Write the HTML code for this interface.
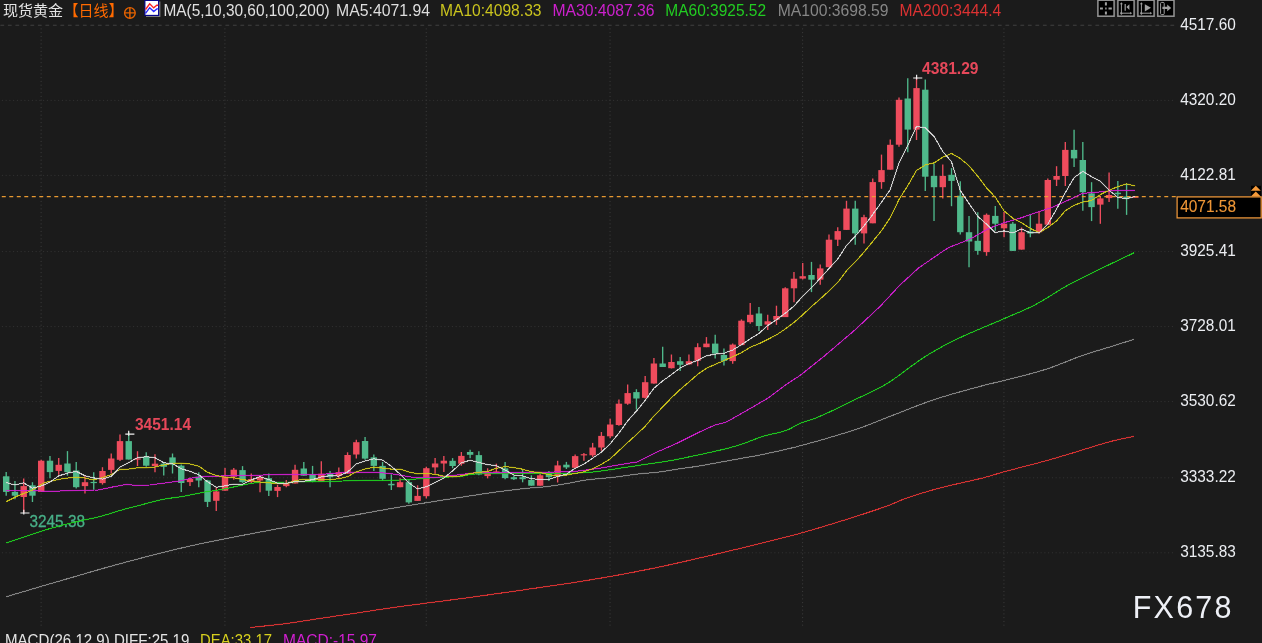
<!DOCTYPE html>
<html lang="zh-CN">
<head>
<meta charset="utf-8">
<title>现货黄金 日线</title>
<style>
html,body{margin:0;padding:0;background:#1b1b1b;}
body{width:1262px;height:643px;overflow:hidden;position:relative;font-family:"Liberation Sans", "Noto Sans CJK SC", sans-serif;}
svg{position:absolute;left:0;top:0;display:block;}
text{font-family:"Liberation Sans", "Noto Sans CJK SC", sans-serif;}
</style>
</head>
<body>
<svg width="1262" height="643" viewBox="0 0 1262 643">
<rect x="0" y="0" width="1262" height="643" fill="#1b1b1b"/>
<g id="grid" fill="none">
<line x1="0.4" y1="25.25" x2="1175" y2="25.25" stroke="#404040" stroke-width="1" stroke-dasharray="3.75 3.75"/>
<line x1="1.9" y1="100.40" x2="1173.5" y2="100.40" stroke="#343434" stroke-width="1" stroke-dasharray="1 2.75"/>
<line x1="1.9" y1="175.40" x2="1173.5" y2="175.40" stroke="#343434" stroke-width="1" stroke-dasharray="1 2.75"/>
<line x1="1.9" y1="251.60" x2="1173.5" y2="251.60" stroke="#343434" stroke-width="1" stroke-dasharray="1 2.75"/>
<line x1="1.9" y1="326.60" x2="1173.5" y2="326.60" stroke="#343434" stroke-width="1" stroke-dasharray="1 2.75"/>
<line x1="1.9" y1="401.60" x2="1173.5" y2="401.60" stroke="#343434" stroke-width="1" stroke-dasharray="1 2.75"/>
<line x1="1.9" y1="477.80" x2="1173.5" y2="477.80" stroke="#343434" stroke-width="1" stroke-dasharray="1 2.75"/>
<line x1="1.9" y1="552.80" x2="1173.5" y2="552.80" stroke="#343434" stroke-width="1" stroke-dasharray="1 2.75"/>
<line x1="41.11" y1="28.4" x2="41.11" y2="626" stroke="#3e3e3e" stroke-width="1" stroke-dasharray="1 2.75"/>
<line x1="224.92" y1="28.4" x2="224.92" y2="626" stroke="#3e3e3e" stroke-width="1" stroke-dasharray="1 2.75"/>
<line x1="426.24" y1="28.4" x2="426.24" y2="626" stroke="#3e3e3e" stroke-width="1" stroke-dasharray="1 2.75"/>
<line x1="610.06" y1="28.4" x2="610.06" y2="626" stroke="#3e3e3e" stroke-width="1" stroke-dasharray="1 2.75"/>
<line x1="802.62" y1="28.4" x2="802.62" y2="626" stroke="#3e3e3e" stroke-width="1" stroke-dasharray="1 2.75"/>
<line x1="1003.94" y1="28.4" x2="1003.94" y2="626" stroke="#3e3e3e" stroke-width="1" stroke-dasharray="1 2.75"/>
</g>
<g id="candles">
<line x1="6.20" y1="472.1" x2="6.20" y2="495.7" stroke="#4fb98b" stroke-width="1.35"/><rect x="3.00" y="476.3" width="6.4" height="15.6" fill="#4fb98b"/>
<line x1="14.95" y1="481.1" x2="14.95" y2="499.3" stroke="#4fb98b" stroke-width="1.35"/><rect x="11.75" y="491.9" width="6.4" height="3.8" fill="#4fb98b"/>
<line x1="23.71" y1="478.6" x2="23.71" y2="512.8" stroke="#ee4c5d" stroke-width="1.35"/><rect x="20.51" y="486.1" width="6.4" height="10.9" fill="#ee4c5d"/>
<line x1="32.46" y1="482.2" x2="32.46" y2="502.0" stroke="#4fb98b" stroke-width="1.35"/><rect x="29.26" y="485.3" width="6.4" height="10.4" fill="#4fb98b"/>
<line x1="41.21" y1="459.7" x2="41.21" y2="491.9" stroke="#ee4c5d" stroke-width="1.35"/><rect x="38.01" y="460.7" width="6.4" height="31.2" fill="#ee4c5d"/>
<line x1="49.97" y1="456.1" x2="49.97" y2="478.3" stroke="#4fb98b" stroke-width="1.35"/><rect x="46.77" y="460.7" width="6.4" height="11.4" fill="#4fb98b"/>
<line x1="58.72" y1="458.1" x2="58.72" y2="474.7" stroke="#ee4c5d" stroke-width="1.35"/><rect x="55.52" y="464.8" width="6.4" height="6.1" fill="#ee4c5d"/>
<line x1="67.47" y1="451.1" x2="67.47" y2="475.7" stroke="#4fb98b" stroke-width="1.35"/><rect x="64.27" y="463.5" width="6.4" height="8.6" fill="#4fb98b"/>
<line x1="76.22" y1="462.0" x2="76.22" y2="488.4" stroke="#4fb98b" stroke-width="1.35"/><rect x="73.02" y="470.5" width="6.4" height="16.7" fill="#4fb98b"/>
<line x1="84.98" y1="475.2" x2="84.98" y2="493.4" stroke="#ee4c5d" stroke-width="1.35"/><rect x="81.78" y="482.2" width="6.4" height="3.9" fill="#ee4c5d"/>
<line x1="93.73" y1="472.3" x2="93.73" y2="489.8" stroke="#4fb98b" stroke-width="1.35"/><rect x="90.53" y="481.9" width="6.4" height="1.2" fill="#4fb98b"/>
<line x1="102.48" y1="467.2" x2="102.48" y2="484.6" stroke="#ee4c5d" stroke-width="1.35"/><rect x="99.28" y="471.0" width="6.4" height="12.1" fill="#ee4c5d"/>
<line x1="111.24" y1="453.5" x2="111.24" y2="473.5" stroke="#ee4c5d" stroke-width="1.35"/><rect x="108.04" y="458.5" width="6.4" height="11.4" fill="#ee4c5d"/>
<line x1="119.99" y1="434.6" x2="119.99" y2="460.9" stroke="#ee4c5d" stroke-width="1.35"/><rect x="116.79" y="441.1" width="6.4" height="18.7" fill="#ee4c5d"/>
<line x1="128.74" y1="432.6" x2="128.74" y2="459.5" stroke="#4fb98b" stroke-width="1.35"/><rect x="125.54" y="441.1" width="6.4" height="18.4" fill="#4fb98b"/>
<line x1="137.50" y1="451.2" x2="137.50" y2="466.0" stroke="#ee4c5d" stroke-width="1.35"/><rect x="134.30" y="458.4" width="6.4" height="1.2" fill="#ee4c5d"/>
<line x1="146.25" y1="452.3" x2="146.25" y2="466.8" stroke="#4fb98b" stroke-width="1.35"/><rect x="143.05" y="456.7" width="6.4" height="9.0" fill="#4fb98b"/>
<line x1="155.00" y1="454.3" x2="155.00" y2="472.2" stroke="#ee4c5d" stroke-width="1.35"/><rect x="151.80" y="463.7" width="6.4" height="2.3" fill="#ee4c5d"/>
<line x1="163.75" y1="462.1" x2="163.75" y2="475.6" stroke="#4fb98b" stroke-width="1.35"/><rect x="160.55" y="463.7" width="6.4" height="3.1" fill="#4fb98b"/>
<line x1="172.51" y1="453.5" x2="172.51" y2="473.5" stroke="#4fb98b" stroke-width="1.35"/><rect x="169.31" y="457.4" width="6.4" height="7.0" fill="#4fb98b"/>
<line x1="181.26" y1="464.4" x2="181.26" y2="492.1" stroke="#4fb98b" stroke-width="1.35"/><rect x="178.06" y="465.6" width="6.4" height="17.4" fill="#4fb98b"/>
<line x1="190.01" y1="477.4" x2="190.01" y2="486.0" stroke="#ee4c5d" stroke-width="1.35"/><rect x="186.81" y="479.0" width="6.4" height="3.1" fill="#ee4c5d"/>
<line x1="198.77" y1="472.3" x2="198.77" y2="487.2" stroke="#4fb98b" stroke-width="1.35"/><rect x="195.57" y="476.7" width="6.4" height="3.8" fill="#4fb98b"/>
<line x1="207.52" y1="479.8" x2="207.52" y2="507.0" stroke="#4fb98b" stroke-width="1.35"/><rect x="204.32" y="480.5" width="6.4" height="21.4" fill="#4fb98b"/>
<line x1="216.27" y1="487.2" x2="216.27" y2="510.9" stroke="#ee4c5d" stroke-width="1.35"/><rect x="213.07" y="491.4" width="6.4" height="9.4" fill="#ee4c5d"/>
<line x1="225.02" y1="468.1" x2="225.02" y2="490.7" stroke="#ee4c5d" stroke-width="1.35"/><rect x="221.82" y="476.7" width="6.4" height="14.0" fill="#ee4c5d"/>
<line x1="233.78" y1="468.1" x2="233.78" y2="479.8" stroke="#ee4c5d" stroke-width="1.35"/><rect x="230.58" y="469.7" width="6.4" height="7.0" fill="#ee4c5d"/>
<line x1="242.53" y1="466.1" x2="242.53" y2="482.9" stroke="#4fb98b" stroke-width="1.35"/><rect x="239.33" y="470.1" width="6.4" height="12.0" fill="#4fb98b"/>
<line x1="251.28" y1="473.5" x2="251.28" y2="482.9" stroke="#ee4c5d" stroke-width="1.35"/><rect x="248.08" y="479.0" width="6.4" height="3.1" fill="#ee4c5d"/>
<line x1="260.04" y1="475.1" x2="260.04" y2="492.2" stroke="#ee4c5d" stroke-width="1.35"/><rect x="256.84" y="476.7" width="6.4" height="3.8" fill="#ee4c5d"/>
<line x1="268.79" y1="473.5" x2="268.79" y2="496.1" stroke="#4fb98b" stroke-width="1.35"/><rect x="265.59" y="478.2" width="6.4" height="12.5" fill="#4fb98b"/>
<line x1="277.54" y1="484.8" x2="277.54" y2="497.1" stroke="#ee4c5d" stroke-width="1.35"/><rect x="274.34" y="487.0" width="6.4" height="3.9" fill="#ee4c5d"/>
<line x1="286.30" y1="479.9" x2="286.30" y2="487.2" stroke="#ee4c5d" stroke-width="1.35"/><rect x="283.10" y="483.5" width="6.4" height="2.6" fill="#ee4c5d"/>
<line x1="295.05" y1="464.8" x2="295.05" y2="483.5" stroke="#ee4c5d" stroke-width="1.35"/><rect x="291.85" y="469.8" width="6.4" height="13.7" fill="#ee4c5d"/>
<line x1="303.80" y1="462.0" x2="303.80" y2="475.7" stroke="#4fb98b" stroke-width="1.35"/><rect x="300.60" y="468.5" width="6.4" height="7.2" fill="#4fb98b"/>
<line x1="312.56" y1="465.9" x2="312.56" y2="482.2" stroke="#4fb98b" stroke-width="1.35"/><rect x="309.36" y="474.4" width="6.4" height="7.5" fill="#4fb98b"/>
<line x1="321.31" y1="461.2" x2="321.31" y2="481.9" stroke="#ee4c5d" stroke-width="1.35"/><rect x="318.11" y="473.7" width="6.4" height="8.2" fill="#ee4c5d"/>
<line x1="330.06" y1="471.0" x2="330.06" y2="487.2" stroke="#4fb98b" stroke-width="1.35"/><rect x="326.86" y="473.7" width="6.4" height="3.5" fill="#4fb98b"/>
<line x1="338.81" y1="467.4" x2="338.81" y2="478.3" stroke="#ee4c5d" stroke-width="1.35"/><rect x="335.61" y="472.1" width="6.4" height="3.9" fill="#ee4c5d"/>
<line x1="347.57" y1="452.3" x2="347.57" y2="473.7" stroke="#ee4c5d" stroke-width="1.35"/><rect x="344.37" y="455.0" width="6.4" height="18.7" fill="#ee4c5d"/>
<line x1="356.32" y1="439.8" x2="356.32" y2="458.6" stroke="#ee4c5d" stroke-width="1.35"/><rect x="353.12" y="442.2" width="6.4" height="12.3" fill="#ee4c5d"/>
<line x1="365.07" y1="437.1" x2="365.07" y2="459.7" stroke="#4fb98b" stroke-width="1.35"/><rect x="361.87" y="441.0" width="6.4" height="17.6" fill="#4fb98b"/>
<line x1="373.83" y1="454.5" x2="373.83" y2="470.9" stroke="#4fb98b" stroke-width="1.35"/><rect x="370.63" y="457.3" width="6.4" height="8.6" fill="#4fb98b"/>
<line x1="382.58" y1="462.0" x2="382.58" y2="480.7" stroke="#4fb98b" stroke-width="1.35"/><rect x="379.38" y="465.9" width="6.4" height="12.9" fill="#4fb98b"/>
<line x1="391.33" y1="474.4" x2="391.33" y2="490.0" stroke="#4fb98b" stroke-width="1.35"/><rect x="388.13" y="483.8" width="6.4" height="1.5" fill="#4fb98b"/>
<line x1="400.08" y1="478.3" x2="400.08" y2="487.2" stroke="#ee4c5d" stroke-width="1.35"/><rect x="396.88" y="482.2" width="6.4" height="5.0" fill="#ee4c5d"/>
<line x1="408.84" y1="479.1" x2="408.84" y2="503.7" stroke="#4fb98b" stroke-width="1.35"/><rect x="405.64" y="482.2" width="6.4" height="20.2" fill="#4fb98b"/>
<line x1="417.59" y1="485.3" x2="417.59" y2="500.9" stroke="#ee4c5d" stroke-width="1.35"/><rect x="414.39" y="495.9" width="6.4" height="5.0" fill="#ee4c5d"/>
<line x1="426.34" y1="466.7" x2="426.34" y2="498.5" stroke="#ee4c5d" stroke-width="1.35"/><rect x="423.14" y="468.2" width="6.4" height="28.0" fill="#ee4c5d"/>
<line x1="435.10" y1="458.1" x2="435.10" y2="473.7" stroke="#ee4c5d" stroke-width="1.35"/><rect x="431.90" y="463.5" width="6.4" height="3.9" fill="#ee4c5d"/>
<line x1="443.85" y1="456.1" x2="443.85" y2="472.1" stroke="#ee4c5d" stroke-width="1.35"/><rect x="440.65" y="460.7" width="6.4" height="2.8" fill="#ee4c5d"/>
<line x1="452.60" y1="458.1" x2="452.60" y2="468.3" stroke="#4fb98b" stroke-width="1.35"/><rect x="449.40" y="460.8" width="6.4" height="5.2" fill="#4fb98b"/>
<line x1="461.36" y1="452.0" x2="461.36" y2="465.7" stroke="#ee4c5d" stroke-width="1.35"/><rect x="458.16" y="455.9" width="6.4" height="7.8" fill="#ee4c5d"/>
<line x1="470.11" y1="449.7" x2="470.11" y2="458.2" stroke="#4fb98b" stroke-width="1.35"/><rect x="466.91" y="452.0" width="6.4" height="2.8" fill="#4fb98b"/>
<line x1="478.86" y1="451.2" x2="478.86" y2="475.3" stroke="#4fb98b" stroke-width="1.35"/><rect x="475.66" y="455.1" width="6.4" height="19.4" fill="#4fb98b"/>
<line x1="487.62" y1="468.3" x2="487.62" y2="478.4" stroke="#ee4c5d" stroke-width="1.35"/><rect x="484.42" y="471.9" width="6.4" height="4.2" fill="#ee4c5d"/>
<line x1="496.37" y1="463.7" x2="496.37" y2="472.7" stroke="#ee4c5d" stroke-width="1.35"/><rect x="493.17" y="471.4" width="6.4" height="1.3" fill="#ee4c5d"/>
<line x1="505.12" y1="462.1" x2="505.12" y2="479.2" stroke="#4fb98b" stroke-width="1.35"/><rect x="501.92" y="468.3" width="6.4" height="9.8" fill="#4fb98b"/>
<line x1="513.87" y1="475.3" x2="513.87" y2="480.0" stroke="#4fb98b" stroke-width="1.35"/><rect x="510.67" y="477.2" width="6.4" height="2.0" fill="#4fb98b"/>
<line x1="522.63" y1="469.9" x2="522.63" y2="482.3" stroke="#4fb98b" stroke-width="1.35"/><rect x="519.43" y="477.2" width="6.4" height="2.0" fill="#4fb98b"/>
<line x1="531.38" y1="475.3" x2="531.38" y2="485.7" stroke="#4fb98b" stroke-width="1.35"/><rect x="528.18" y="480.0" width="6.4" height="5.7" fill="#4fb98b"/>
<line x1="540.13" y1="473.8" x2="540.13" y2="485.7" stroke="#ee4c5d" stroke-width="1.35"/><rect x="536.93" y="475.3" width="6.4" height="10.4" fill="#ee4c5d"/>
<line x1="548.89" y1="471.0" x2="548.89" y2="481.0" stroke="#4fb98b" stroke-width="1.35"/><rect x="545.69" y="472.3" width="6.4" height="4.8" fill="#4fb98b"/>
<line x1="557.64" y1="460.8" x2="557.64" y2="482.5" stroke="#ee4c5d" stroke-width="1.35"/><rect x="554.44" y="465.4" width="6.4" height="10.9" fill="#ee4c5d"/>
<line x1="566.39" y1="461.9" x2="566.39" y2="469.0" stroke="#4fb98b" stroke-width="1.35"/><rect x="563.19" y="464.7" width="6.4" height="2.7" fill="#4fb98b"/>
<line x1="575.15" y1="454.5" x2="575.15" y2="468.5" stroke="#ee4c5d" stroke-width="1.35"/><rect x="571.95" y="456.1" width="6.4" height="11.7" fill="#ee4c5d"/>
<line x1="583.90" y1="453.0" x2="583.90" y2="460.8" stroke="#ee4c5d" stroke-width="1.35"/><rect x="580.70" y="454.2" width="6.4" height="1.2" fill="#ee4c5d"/>
<line x1="592.65" y1="442.9" x2="592.65" y2="456.9" stroke="#ee4c5d" stroke-width="1.35"/><rect x="589.45" y="447.5" width="6.4" height="7.8" fill="#ee4c5d"/>
<line x1="601.40" y1="432.0" x2="601.40" y2="450.7" stroke="#ee4c5d" stroke-width="1.35"/><rect x="598.20" y="435.9" width="6.4" height="11.6" fill="#ee4c5d"/>
<line x1="610.16" y1="418.8" x2="610.16" y2="438.2" stroke="#ee4c5d" stroke-width="1.35"/><rect x="606.96" y="424.5" width="6.4" height="11.8" fill="#ee4c5d"/>
<line x1="618.91" y1="399.6" x2="618.91" y2="425.8" stroke="#ee4c5d" stroke-width="1.35"/><rect x="615.71" y="403.7" width="6.4" height="21.3" fill="#ee4c5d"/>
<line x1="627.66" y1="384.5" x2="627.66" y2="404.8" stroke="#ee4c5d" stroke-width="1.35"/><rect x="624.46" y="393.1" width="6.4" height="10.6" fill="#ee4c5d"/>
<line x1="636.42" y1="389.2" x2="636.42" y2="409.6" stroke="#4fb98b" stroke-width="1.35"/><rect x="633.22" y="392.1" width="6.4" height="6.4" fill="#4fb98b"/>
<line x1="645.17" y1="376.0" x2="645.17" y2="398.5" stroke="#ee4c5d" stroke-width="1.35"/><rect x="641.97" y="382.2" width="6.4" height="15.6" fill="#ee4c5d"/>
<line x1="653.92" y1="358.1" x2="653.92" y2="383.8" stroke="#ee4c5d" stroke-width="1.35"/><rect x="650.72" y="363.5" width="6.4" height="20.0" fill="#ee4c5d"/>
<line x1="662.68" y1="346.7" x2="662.68" y2="367.0" stroke="#4fb98b" stroke-width="1.35"/><rect x="659.48" y="363.5" width="6.4" height="3.5" fill="#4fb98b"/>
<line x1="671.43" y1="354.5" x2="671.43" y2="368.5" stroke="#ee4c5d" stroke-width="1.35"/><rect x="668.23" y="362.0" width="6.4" height="6.2" fill="#ee4c5d"/>
<line x1="680.18" y1="357.0" x2="680.18" y2="370.9" stroke="#4fb98b" stroke-width="1.35"/><rect x="676.98" y="361.2" width="6.4" height="3.6" fill="#4fb98b"/>
<line x1="688.93" y1="354.5" x2="688.93" y2="365.1" stroke="#ee4c5d" stroke-width="1.35"/><rect x="685.73" y="361.2" width="6.4" height="3.1" fill="#ee4c5d"/>
<line x1="697.69" y1="343.3" x2="697.69" y2="366.3" stroke="#ee4c5d" stroke-width="1.35"/><rect x="694.49" y="347.2" width="6.4" height="13.5" fill="#ee4c5d"/>
<line x1="706.44" y1="337.1" x2="706.44" y2="347.2" stroke="#ee4c5d" stroke-width="1.35"/><rect x="703.24" y="343.6" width="6.4" height="3.6" fill="#ee4c5d"/>
<line x1="715.19" y1="334.8" x2="715.19" y2="358.6" stroke="#4fb98b" stroke-width="1.35"/><rect x="711.99" y="343.6" width="6.4" height="9.9" fill="#4fb98b"/>
<line x1="723.95" y1="348.5" x2="723.95" y2="365.5" stroke="#4fb98b" stroke-width="1.35"/><rect x="720.75" y="355.0" width="6.4" height="5.9" fill="#4fb98b"/>
<line x1="732.70" y1="343.5" x2="732.70" y2="363.8" stroke="#ee4c5d" stroke-width="1.35"/><rect x="729.50" y="344.6" width="6.4" height="16.5" fill="#ee4c5d"/>
<line x1="741.45" y1="319.4" x2="741.45" y2="345.1" stroke="#ee4c5d" stroke-width="1.35"/><rect x="738.25" y="320.7" width="6.4" height="24.4" fill="#ee4c5d"/>
<line x1="750.21" y1="303.1" x2="750.21" y2="323.8" stroke="#ee4c5d" stroke-width="1.35"/><rect x="747.00" y="314.8" width="6.4" height="7.4" fill="#ee4c5d"/>
<line x1="758.96" y1="307.0" x2="758.96" y2="331.1" stroke="#4fb98b" stroke-width="1.35"/><rect x="755.76" y="313.5" width="6.4" height="12.5" fill="#4fb98b"/>
<line x1="767.71" y1="314.8" x2="767.71" y2="330.0" stroke="#ee4c5d" stroke-width="1.35"/><rect x="764.51" y="321.3" width="6.4" height="3.3" fill="#ee4c5d"/>
<line x1="776.46" y1="305.7" x2="776.46" y2="324.9" stroke="#ee4c5d" stroke-width="1.35"/><rect x="773.26" y="316.0" width="6.4" height="3.7" fill="#ee4c5d"/>
<line x1="785.22" y1="287.2" x2="785.22" y2="317.1" stroke="#ee4c5d" stroke-width="1.35"/><rect x="782.02" y="288.3" width="6.4" height="28.8" fill="#ee4c5d"/>
<line x1="793.97" y1="272.0" x2="793.97" y2="302.3" stroke="#ee4c5d" stroke-width="1.35"/><rect x="790.77" y="278.7" width="6.4" height="9.6" fill="#ee4c5d"/>
<line x1="802.72" y1="263.0" x2="802.72" y2="279.6" stroke="#ee4c5d" stroke-width="1.35"/><rect x="799.52" y="276.2" width="6.4" height="2.4" fill="#ee4c5d"/>
<line x1="811.48" y1="261.9" x2="811.48" y2="292.1" stroke="#4fb98b" stroke-width="1.35"/><rect x="808.28" y="275.0" width="6.4" height="4.7" fill="#4fb98b"/>
<line x1="820.23" y1="264.5" x2="820.23" y2="284.8" stroke="#ee4c5d" stroke-width="1.35"/><rect x="817.03" y="268.4" width="6.4" height="11.2" fill="#ee4c5d"/>
<line x1="828.98" y1="234.5" x2="828.98" y2="267.2" stroke="#ee4c5d" stroke-width="1.35"/><rect x="825.78" y="239.7" width="6.4" height="27.5" fill="#ee4c5d"/>
<line x1="837.74" y1="227.2" x2="837.74" y2="245.9" stroke="#ee4c5d" stroke-width="1.35"/><rect x="834.53" y="231.1" width="6.4" height="8.6" fill="#ee4c5d"/>
<line x1="846.49" y1="200.8" x2="846.49" y2="229.9" stroke="#ee4c5d" stroke-width="1.35"/><rect x="843.29" y="208.6" width="6.4" height="21.3" fill="#ee4c5d"/>
<line x1="855.24" y1="200.8" x2="855.24" y2="244.8" stroke="#4fb98b" stroke-width="1.35"/><rect x="852.04" y="208.6" width="6.4" height="24.8" fill="#4fb98b"/>
<line x1="863.99" y1="214.8" x2="863.99" y2="243.5" stroke="#ee4c5d" stroke-width="1.35"/><rect x="860.79" y="217.2" width="6.4" height="16.2" fill="#ee4c5d"/>
<line x1="872.75" y1="178.5" x2="872.75" y2="223.3" stroke="#ee4c5d" stroke-width="1.35"/><rect x="869.55" y="182.1" width="6.4" height="41.2" fill="#ee4c5d"/>
<line x1="881.50" y1="154.6" x2="881.50" y2="188.8" stroke="#ee4c5d" stroke-width="1.35"/><rect x="878.30" y="170.1" width="6.4" height="12.0" fill="#ee4c5d"/>
<line x1="890.25" y1="139.5" x2="890.25" y2="169.7" stroke="#ee4c5d" stroke-width="1.35"/><rect x="887.05" y="144.8" width="6.4" height="24.9" fill="#ee4c5d"/>
<line x1="899.01" y1="97.4" x2="899.01" y2="146.8" stroke="#ee4c5d" stroke-width="1.35"/><rect x="895.81" y="99.8" width="6.4" height="44.9" fill="#ee4c5d"/>
<line x1="907.76" y1="78.3" x2="907.76" y2="152.2" stroke="#4fb98b" stroke-width="1.35"/><rect x="904.56" y="98.5" width="6.4" height="31.1" fill="#4fb98b"/>
<line x1="916.51" y1="77.3" x2="916.51" y2="140.0" stroke="#ee4c5d" stroke-width="1.35"/><rect x="913.31" y="88.1" width="6.4" height="41.5" fill="#ee4c5d"/>
<line x1="925.27" y1="79.5" x2="925.27" y2="191.0" stroke="#4fb98b" stroke-width="1.35"/><rect x="922.07" y="89.7" width="6.4" height="87.0" fill="#4fb98b"/>
<line x1="934.02" y1="163.4" x2="934.02" y2="221.0" stroke="#4fb98b" stroke-width="1.35"/><rect x="930.82" y="175.9" width="6.4" height="11.3" fill="#4fb98b"/>
<line x1="942.77" y1="164.5" x2="942.77" y2="198.4" stroke="#ee4c5d" stroke-width="1.35"/><rect x="939.57" y="175.9" width="6.4" height="11.3" fill="#ee4c5d"/>
<line x1="951.52" y1="168.1" x2="951.52" y2="206.2" stroke="#4fb98b" stroke-width="1.35"/><rect x="948.32" y="174.8" width="6.4" height="6.1" fill="#4fb98b"/>
<line x1="960.28" y1="181.2" x2="960.28" y2="234.5" stroke="#4fb98b" stroke-width="1.35"/><rect x="957.08" y="195.7" width="6.4" height="36.5" fill="#4fb98b"/>
<line x1="969.03" y1="215.9" x2="969.03" y2="267.2" stroke="#4fb98b" stroke-width="1.35"/><rect x="965.83" y="232.2" width="6.4" height="9.3" fill="#4fb98b"/>
<line x1="977.78" y1="212.3" x2="977.78" y2="254.8" stroke="#4fb98b" stroke-width="1.35"/><rect x="974.58" y="240.8" width="6.4" height="10.1" fill="#4fb98b"/>
<line x1="986.54" y1="213.5" x2="986.54" y2="255.8" stroke="#ee4c5d" stroke-width="1.35"/><rect x="983.34" y="214.8" width="6.4" height="37.3" fill="#ee4c5d"/>
<line x1="995.29" y1="206.1" x2="995.29" y2="230.7" stroke="#4fb98b" stroke-width="1.35"/><rect x="992.09" y="215.9" width="6.4" height="7.8" fill="#4fb98b"/>
<line x1="1004.04" y1="212.0" x2="1004.04" y2="237.2" stroke="#ee4c5d" stroke-width="1.35"/><rect x="1000.84" y="223.7" width="6.4" height="4.6" fill="#ee4c5d"/>
<line x1="1012.80" y1="222.1" x2="1012.80" y2="250.9" stroke="#4fb98b" stroke-width="1.35"/><rect x="1009.60" y="223.7" width="6.4" height="27.2" fill="#4fb98b"/>
<line x1="1021.55" y1="227.5" x2="1021.55" y2="249.6" stroke="#ee4c5d" stroke-width="1.35"/><rect x="1018.35" y="232.2" width="6.4" height="17.4" fill="#ee4c5d"/>
<line x1="1030.30" y1="215.1" x2="1030.30" y2="237.2" stroke="#4fb98b" stroke-width="1.35"/><rect x="1027.10" y="231.4" width="6.4" height="2.1" fill="#4fb98b"/>
<line x1="1039.05" y1="211.2" x2="1039.05" y2="233.5" stroke="#ee4c5d" stroke-width="1.35"/><rect x="1035.85" y="223.7" width="6.4" height="8.5" fill="#ee4c5d"/>
<line x1="1047.81" y1="178.4" x2="1047.81" y2="224.7" stroke="#ee4c5d" stroke-width="1.35"/><rect x="1044.61" y="180.0" width="6.4" height="44.7" fill="#ee4c5d"/>
<line x1="1056.56" y1="166.2" x2="1056.56" y2="186.0" stroke="#ee4c5d" stroke-width="1.35"/><rect x="1053.36" y="176.0" width="6.4" height="3.7" fill="#ee4c5d"/>
<line x1="1065.31" y1="142.1" x2="1065.31" y2="186.0" stroke="#ee4c5d" stroke-width="1.35"/><rect x="1062.11" y="149.9" width="6.4" height="26.1" fill="#ee4c5d"/>
<line x1="1074.07" y1="129.7" x2="1074.07" y2="167.0" stroke="#4fb98b" stroke-width="1.35"/><rect x="1070.87" y="149.9" width="6.4" height="8.5" fill="#4fb98b"/>
<line x1="1082.82" y1="142.1" x2="1082.82" y2="210.8" stroke="#4fb98b" stroke-width="1.35"/><rect x="1079.62" y="160.0" width="6.4" height="32.2" fill="#4fb98b"/>
<line x1="1091.57" y1="182.2" x2="1091.57" y2="221.1" stroke="#4fb98b" stroke-width="1.35"/><rect x="1088.37" y="193.4" width="6.4" height="13.7" fill="#4fb98b"/>
<line x1="1100.33" y1="195.8" x2="1100.33" y2="223.8" stroke="#ee4c5d" stroke-width="1.35"/><rect x="1097.12" y="198.4" width="6.4" height="6.2" fill="#ee4c5d"/>
<line x1="1109.08" y1="172.4" x2="1109.08" y2="202.0" stroke="#ee4c5d" stroke-width="1.35"/><rect x="1105.88" y="195.0" width="6.4" height="3.1" fill="#ee4c5d"/>
<line x1="1117.83" y1="181.0" x2="1117.83" y2="208.7" stroke="#4fb98b" stroke-width="1.35"/><rect x="1114.63" y="192.7" width="6.4" height="1.5" fill="#4fb98b"/>
<line x1="1126.58" y1="183.8" x2="1126.58" y2="214.9" stroke="#4fb98b" stroke-width="1.35"/><rect x="1123.38" y="196.5" width="6.4" height="2.3" fill="#4fb98b"/>
<rect x="1132.14" y="196.2" width="6.4" height="1.6" fill="#ee4c5d"/>
</g>
<line x1="1.8" y1="196.65" x2="1176.5" y2="196.65" stroke="#f2a033" stroke-width="1.3" stroke-dasharray="3.95 3.55" opacity="0.95"/>
<path d="M913.2 78.0H922.3M916.6 74.7V79.6" stroke="#f0f0f0" stroke-width="1.2" fill="none"/>
<path d="M125.3 434.1H134.4M128.7 430.8V435.7" stroke="#f0f0f0" stroke-width="1.2" fill="none"/>
<path d="M20.4 513.0H29.5M23.8 509.7V514.6" stroke="#f0f0f0" stroke-width="1.2" fill="none"/>
<text x="922.1" y="73.9" font-size="16.4" font-weight="bold" fill="#e6485a" textLength="56.4" lengthAdjust="spacingAndGlyphs">4381.29</text>
<text x="135" y="430" font-size="16.4" font-weight="bold" fill="#e6485a" textLength="56" lengthAdjust="spacingAndGlyphs">3451.14</text>
<text x="29.6" y="527.3" font-size="16.4" fill="#48b088" stroke="#48b088" stroke-width="0.3" textLength="55.3" lengthAdjust="spacingAndGlyphs">3245.38</text>
<g id="ma">
<polyline points="250.4,627.5 254.8,627.0 259.1,626.6 263.5,626.1 267.9,625.7 272.2,625.2 276.6,624.7 280.9,624.2 285.3,623.7 289.8,623.1 294.4,622.4 298.9,621.7 303.4,621.0 307.9,620.3 312.5,619.6 317.0,618.9 321.5,618.2 326.1,617.5 330.6,616.9 335.1,616.2 339.6,615.5 344.2,614.9 348.7,614.2 353.0,613.6 357.2,612.9 361.5,612.3 365.8,611.6 370.1,611.0 374.4,610.3 378.6,609.7 382.9,609.1 387.2,608.4 391.4,607.8 395.7,607.2 400.0,606.6 404.5,606.0 409.1,605.4 413.6,604.8 418.1,604.2 422.6,603.6 427.2,603.0 431.7,602.4 436.2,601.8 440.8,601.3 445.3,600.7 449.8,600.1 454.3,599.5 458.9,598.9 463.4,598.3 467.9,597.7 472.5,597.1 477.0,596.4 481.5,595.8 486.0,595.2 490.6,594.6 495.1,593.9 499.6,593.3 504.2,592.6 508.7,592.0 513.2,591.4 517.7,590.7 522.3,590.1 526.8,589.4 531.3,588.7 535.9,588.1 540.4,587.4 544.9,586.8 549.4,586.1 554.0,585.5 558.5,584.8 563.0,584.2 567.6,583.5 572.1,582.8 576.6,582.1 581.1,581.4 585.7,580.6 590.2,579.9 594.7,579.1 599.3,578.4 603.8,577.6 608.3,576.8 612.8,576.0 617.4,575.2 621.9,574.4 626.4,573.5 631.0,572.7 635.5,571.8 640.0,570.9 644.5,570.0 649.1,569.1 653.6,568.2 658.1,567.3 662.7,566.3 667.2,565.3 671.7,564.3 676.2,563.3 680.8,562.3 685.3,561.3 689.8,560.2 694.4,559.2 698.9,558.1 703.4,557.1 707.9,556.0 712.5,555.0 717.0,553.9 721.3,552.9 725.6,551.9 729.9,550.9 734.2,549.8 738.5,548.8 742.8,547.7 747.1,546.7 751.4,545.6 755.7,544.6 760.0,543.5 764.6,542.4 769.2,541.2 773.7,540.1 778.3,539.0 782.9,537.8 787.5,536.7 792.0,535.5 796.6,534.3 801.2,533.0 805.5,531.8 809.8,530.5 814.2,529.3 818.5,528.0 822.8,526.7 827.1,525.4 831.4,524.1 835.7,522.7 840.1,521.4 844.4,520.1 848.7,518.7 852.9,517.4 857.2,516.0 861.4,514.7 865.6,513.3 869.9,511.9 874.1,510.5 878.3,509.1 882.6,507.6 886.8,506.1 891.2,504.4 895.7,502.5 900.1,500.6 904.6,498.8 909.0,497.2 913.4,495.8 917.7,494.4 922.0,493.1 926.4,491.8 930.8,490.5 935.1,489.3 939.4,488.1 943.8,487.0 948.0,485.9 952.3,484.9 956.5,484.0 960.7,483.0 965.0,482.1 969.2,481.2 973.4,480.2 977.7,479.2 981.9,478.2 986.3,477.0 990.7,475.7 995.2,474.4 999.6,473.1 1004.0,471.8 1008.6,470.6 1013.2,469.4 1017.7,468.2 1022.3,467.0 1026.9,465.8 1031.5,464.7 1036.0,463.5 1040.6,462.2 1045.2,461.0 1049.7,459.7 1054.3,458.4 1058.8,457.1 1063.4,455.7 1067.9,454.3 1072.5,453.0 1077.0,451.6 1081.5,450.2 1086.1,448.8 1090.6,447.4 1095.1,446.0 1099.6,444.6 1104.2,443.3 1108.7,442.0 1112.9,440.9 1117.1,439.9 1121.3,439.0 1125.6,438.1 1129.8,437.2 1134.0,436.3" fill="none" stroke="#e23434" stroke-width="1.7" stroke-linejoin="round" opacity="0.24"/>
<polyline points="250.4,627.5 254.8,627.0 259.1,626.6 263.5,626.1 267.9,625.7 272.2,625.2 276.6,624.7 280.9,624.2 285.3,623.7 289.8,623.1 294.4,622.4 298.9,621.7 303.4,621.0 307.9,620.3 312.5,619.6 317.0,618.9 321.5,618.2 326.1,617.5 330.6,616.9 335.1,616.2 339.6,615.5 344.2,614.9 348.7,614.2 353.0,613.6 357.2,612.9 361.5,612.3 365.8,611.6 370.1,611.0 374.4,610.3 378.6,609.7 382.9,609.1 387.2,608.4 391.4,607.8 395.7,607.2 400.0,606.6 404.5,606.0 409.1,605.4 413.6,604.8 418.1,604.2 422.6,603.6 427.2,603.0 431.7,602.4 436.2,601.8 440.8,601.3 445.3,600.7 449.8,600.1 454.3,599.5 458.9,598.9 463.4,598.3 467.9,597.7 472.5,597.1 477.0,596.4 481.5,595.8 486.0,595.2 490.6,594.6 495.1,593.9 499.6,593.3 504.2,592.6 508.7,592.0 513.2,591.4 517.7,590.7 522.3,590.1 526.8,589.4 531.3,588.7 535.9,588.1 540.4,587.4 544.9,586.8 549.4,586.1 554.0,585.5 558.5,584.8 563.0,584.2 567.6,583.5 572.1,582.8 576.6,582.1 581.1,581.4 585.7,580.6 590.2,579.9 594.7,579.1 599.3,578.4 603.8,577.6 608.3,576.8 612.8,576.0 617.4,575.2 621.9,574.4 626.4,573.5 631.0,572.7 635.5,571.8 640.0,570.9 644.5,570.0 649.1,569.1 653.6,568.2 658.1,567.3 662.7,566.3 667.2,565.3 671.7,564.3 676.2,563.3 680.8,562.3 685.3,561.3 689.8,560.2 694.4,559.2 698.9,558.1 703.4,557.1 707.9,556.0 712.5,555.0 717.0,553.9 721.3,552.9 725.6,551.9 729.9,550.9 734.2,549.8 738.5,548.8 742.8,547.7 747.1,546.7 751.4,545.6 755.7,544.6 760.0,543.5 764.6,542.4 769.2,541.2 773.7,540.1 778.3,539.0 782.9,537.8 787.5,536.7 792.0,535.5 796.6,534.3 801.2,533.0 805.5,531.8 809.8,530.5 814.2,529.3 818.5,528.0 822.8,526.7 827.1,525.4 831.4,524.1 835.7,522.7 840.1,521.4 844.4,520.1 848.7,518.7 852.9,517.4 857.2,516.0 861.4,514.7 865.6,513.3 869.9,511.9 874.1,510.5 878.3,509.1 882.6,507.6 886.8,506.1 891.2,504.4 895.7,502.5 900.1,500.6 904.6,498.8 909.0,497.2 913.4,495.8 917.7,494.4 922.0,493.1 926.4,491.8 930.8,490.5 935.1,489.3 939.4,488.1 943.8,487.0 948.0,485.9 952.3,484.9 956.5,484.0 960.7,483.0 965.0,482.1 969.2,481.2 973.4,480.2 977.7,479.2 981.9,478.2 986.3,477.0 990.7,475.7 995.2,474.4 999.6,473.1 1004.0,471.8 1008.6,470.6 1013.2,469.4 1017.7,468.2 1022.3,467.0 1026.9,465.8 1031.5,464.7 1036.0,463.5 1040.6,462.2 1045.2,461.0 1049.7,459.7 1054.3,458.4 1058.8,457.1 1063.4,455.7 1067.9,454.3 1072.5,453.0 1077.0,451.6 1081.5,450.2 1086.1,448.8 1090.6,447.4 1095.1,446.0 1099.6,444.6 1104.2,443.3 1108.7,442.0 1112.9,440.9 1117.1,439.9 1121.3,439.0 1125.6,438.1 1129.8,437.2 1134.0,436.3" fill="none" stroke="#e23434" stroke-width="1" stroke-linejoin="round" opacity="0.9" shape-rendering="crispEdges"/>
<polyline points="6.3,596.7 10.7,595.4 15.1,594.1 19.5,592.8 23.9,591.5 28.3,590.2 32.7,588.9 37.0,587.6 41.4,586.3 45.8,585.0 50.2,583.7 54.6,582.5 59.0,581.2 63.4,579.9 67.9,578.6 72.5,577.3 77.0,576.0 81.5,574.7 86.0,573.3 90.6,572.0 95.1,570.7 99.6,569.4 104.2,568.1 108.7,566.9 113.2,565.6 117.7,564.4 122.3,563.1 126.8,561.9 131.3,560.7 135.9,559.5 140.4,558.3 144.9,557.1 149.4,555.9 154.0,554.8 158.5,553.6 163.0,552.5 167.6,551.4 172.1,550.2 176.6,549.2 181.1,548.1 185.7,547.0 190.2,546.0 194.7,545.0 199.3,544.0 203.8,543.0 208.3,542.1 212.8,541.2 217.4,540.3 221.9,539.4 226.4,538.5 231.0,537.6 235.5,536.8 240.0,535.9 244.5,535.0 249.1,534.2 253.6,533.3 258.1,532.4 262.7,531.6 267.2,530.7 271.7,529.9 276.2,529.0 280.8,528.2 285.3,527.4 289.8,526.5 294.4,525.7 298.9,524.9 303.4,524.1 307.9,523.2 312.5,522.4 317.0,521.6 321.3,520.8 325.6,520.1 329.9,519.3 334.2,518.6 338.5,517.8 342.8,517.1 347.1,516.3 351.4,515.6 355.7,514.9 360.0,514.1 364.4,513.3 368.9,512.5 373.3,511.7 377.8,510.9 382.2,510.1 386.7,509.3 391.1,508.5 395.6,507.8 400.0,507.0 404.5,506.2 409.1,505.5 413.6,504.8 418.1,504.0 422.6,503.3 427.2,502.6 431.7,501.9 436.2,501.1 440.8,500.4 445.3,499.7 449.8,499.0 454.3,498.3 458.9,497.6 463.4,496.9 468.0,496.2 472.5,495.5 477.1,494.8 481.7,494.1 486.3,493.4 490.9,492.8 495.4,492.1 500.0,491.5 504.5,490.9 508.9,490.3 513.4,489.8 517.9,489.3 522.3,488.8 526.8,488.3 531.3,487.9 535.9,487.6 540.5,487.2 545.0,486.8 549.2,486.3 553.5,485.7 557.8,485.1 562.0,484.4 566.2,483.7 570.5,482.9 574.8,482.0 579.0,481.2 583.2,480.5 587.5,479.8 591.9,479.3 596.4,478.8 600.8,478.5 605.3,478.1 609.7,477.7 613.9,477.2 618.2,476.7 622.4,476.1 627.1,475.5 631.9,474.8 636.6,474.2 641.4,473.6 645.4,473.2 649.3,473.0 653.3,472.7 657.3,472.3 662.0,471.6 666.8,470.9 671.5,470.1 676.3,469.3 680.7,468.7 685.2,468.0 689.6,467.4 694.1,466.8 698.5,466.1 702.7,465.4 707.0,464.6 711.2,463.8 715.3,463.1 719.4,462.3 723.5,461.6 727.7,460.8 731.8,460.1 735.9,459.3 740.0,458.6 744.0,457.9 748.0,457.2 752.0,456.5 756.0,455.8 760.0,455.0 764.4,454.1 768.9,453.1 773.3,452.1 777.8,451.2 782.2,450.2 786.7,449.1 791.1,448.1 795.6,447.0 800.0,445.8 804.2,444.7 808.5,443.5 812.7,442.4 817.0,441.2 821.2,440.0 825.4,438.8 829.7,437.5 833.9,436.3 838.1,435.0 842.4,433.7 846.6,432.4 850.9,431.1 855.1,429.7 859.6,428.2 864.2,426.5 868.7,424.8 873.2,423.0 877.7,421.2 882.3,419.4 886.8,417.6 891.1,415.9 895.4,414.3 899.8,412.6 904.1,410.9 908.4,409.2 912.7,407.5 917.0,405.8 921.3,404.2 925.7,402.6 930.0,401.1 934.3,399.6 938.6,398.2 943.0,396.8 947.3,395.5 951.6,394.2 955.9,393.0 960.3,391.8 964.6,390.6 968.9,389.4 973.2,388.3 977.6,387.1 981.9,385.9 986.3,384.7 990.7,383.7 995.2,382.6 999.6,381.6 1004.0,380.5 1008.6,379.3 1013.2,378.2 1017.7,377.0 1022.3,375.9 1026.9,374.7 1031.5,373.5 1036.0,372.2 1040.6,370.9 1045.2,369.5 1049.4,368.1 1053.7,366.6 1057.9,365.0 1062.1,363.3 1066.4,361.7 1070.6,360.0 1074.8,358.3 1079.1,356.7 1083.3,355.2 1087.5,353.8 1091.8,352.4 1096.0,351.1 1100.2,349.9 1104.5,348.6 1108.7,347.3 1112.9,346.0 1117.1,344.6 1121.3,343.3 1125.6,342.0 1129.8,340.6 1134.0,339.3" fill="none" stroke="#8c8c8c" stroke-width="1.7" stroke-linejoin="round" opacity="0.24"/>
<polyline points="6.3,596.7 10.7,595.4 15.1,594.1 19.5,592.8 23.9,591.5 28.3,590.2 32.7,588.9 37.0,587.6 41.4,586.3 45.8,585.0 50.2,583.7 54.6,582.5 59.0,581.2 63.4,579.9 67.9,578.6 72.5,577.3 77.0,576.0 81.5,574.7 86.0,573.3 90.6,572.0 95.1,570.7 99.6,569.4 104.2,568.1 108.7,566.9 113.2,565.6 117.7,564.4 122.3,563.1 126.8,561.9 131.3,560.7 135.9,559.5 140.4,558.3 144.9,557.1 149.4,555.9 154.0,554.8 158.5,553.6 163.0,552.5 167.6,551.4 172.1,550.2 176.6,549.2 181.1,548.1 185.7,547.0 190.2,546.0 194.7,545.0 199.3,544.0 203.8,543.0 208.3,542.1 212.8,541.2 217.4,540.3 221.9,539.4 226.4,538.5 231.0,537.6 235.5,536.8 240.0,535.9 244.5,535.0 249.1,534.2 253.6,533.3 258.1,532.4 262.7,531.6 267.2,530.7 271.7,529.9 276.2,529.0 280.8,528.2 285.3,527.4 289.8,526.5 294.4,525.7 298.9,524.9 303.4,524.1 307.9,523.2 312.5,522.4 317.0,521.6 321.3,520.8 325.6,520.1 329.9,519.3 334.2,518.6 338.5,517.8 342.8,517.1 347.1,516.3 351.4,515.6 355.7,514.9 360.0,514.1 364.4,513.3 368.9,512.5 373.3,511.7 377.8,510.9 382.2,510.1 386.7,509.3 391.1,508.5 395.6,507.8 400.0,507.0 404.5,506.2 409.1,505.5 413.6,504.8 418.1,504.0 422.6,503.3 427.2,502.6 431.7,501.9 436.2,501.1 440.8,500.4 445.3,499.7 449.8,499.0 454.3,498.3 458.9,497.6 463.4,496.9 468.0,496.2 472.5,495.5 477.1,494.8 481.7,494.1 486.3,493.4 490.9,492.8 495.4,492.1 500.0,491.5 504.5,490.9 508.9,490.3 513.4,489.8 517.9,489.3 522.3,488.8 526.8,488.3 531.3,487.9 535.9,487.6 540.5,487.2 545.0,486.8 549.2,486.3 553.5,485.7 557.8,485.1 562.0,484.4 566.2,483.7 570.5,482.9 574.8,482.0 579.0,481.2 583.2,480.5 587.5,479.8 591.9,479.3 596.4,478.8 600.8,478.5 605.3,478.1 609.7,477.7 613.9,477.2 618.2,476.7 622.4,476.1 627.1,475.5 631.9,474.8 636.6,474.2 641.4,473.6 645.4,473.2 649.3,473.0 653.3,472.7 657.3,472.3 662.0,471.6 666.8,470.9 671.5,470.1 676.3,469.3 680.7,468.7 685.2,468.0 689.6,467.4 694.1,466.8 698.5,466.1 702.7,465.4 707.0,464.6 711.2,463.8 715.3,463.1 719.4,462.3 723.5,461.6 727.7,460.8 731.8,460.1 735.9,459.3 740.0,458.6 744.0,457.9 748.0,457.2 752.0,456.5 756.0,455.8 760.0,455.0 764.4,454.1 768.9,453.1 773.3,452.1 777.8,451.2 782.2,450.2 786.7,449.1 791.1,448.1 795.6,447.0 800.0,445.8 804.2,444.7 808.5,443.5 812.7,442.4 817.0,441.2 821.2,440.0 825.4,438.8 829.7,437.5 833.9,436.3 838.1,435.0 842.4,433.7 846.6,432.4 850.9,431.1 855.1,429.7 859.6,428.2 864.2,426.5 868.7,424.8 873.2,423.0 877.7,421.2 882.3,419.4 886.8,417.6 891.1,415.9 895.4,414.3 899.8,412.6 904.1,410.9 908.4,409.2 912.7,407.5 917.0,405.8 921.3,404.2 925.7,402.6 930.0,401.1 934.3,399.6 938.6,398.2 943.0,396.8 947.3,395.5 951.6,394.2 955.9,393.0 960.3,391.8 964.6,390.6 968.9,389.4 973.2,388.3 977.6,387.1 981.9,385.9 986.3,384.7 990.7,383.7 995.2,382.6 999.6,381.6 1004.0,380.5 1008.6,379.3 1013.2,378.2 1017.7,377.0 1022.3,375.9 1026.9,374.7 1031.5,373.5 1036.0,372.2 1040.6,370.9 1045.2,369.5 1049.4,368.1 1053.7,366.6 1057.9,365.0 1062.1,363.3 1066.4,361.7 1070.6,360.0 1074.8,358.3 1079.1,356.7 1083.3,355.2 1087.5,353.8 1091.8,352.4 1096.0,351.1 1100.2,349.9 1104.5,348.6 1108.7,347.3 1112.9,346.0 1117.1,344.6 1121.3,343.3 1125.6,342.0 1129.8,340.6 1134.0,339.3" fill="none" stroke="#8c8c8c" stroke-width="1" stroke-linejoin="round" opacity="0.9" shape-rendering="crispEdges"/>
<polyline points="6.3,543.0 11.0,541.4 15.8,539.8 20.5,538.2 25.3,536.6 30.0,535.0 34.4,533.5 38.8,532.1 43.2,530.7 47.6,529.3 52.0,528.0 56.0,526.9 60.1,525.8 64.2,524.8 68.2,523.8 72.2,522.8 76.3,521.8 81.0,520.7 85.8,519.7 90.5,518.7 95.3,517.7 100.0,516.5 104.0,515.4 108.0,514.2 112.0,512.9 116.0,511.7 120.0,510.5 124.0,509.4 128.0,508.3 132.0,507.3 136.0,506.2 140.0,505.2 144.1,504.1 148.3,503.0 152.4,501.9 156.5,500.9 160.7,499.9 164.8,499.0 169.9,498.2 174.9,497.6 180.0,496.9 184.6,496.1 189.2,495.1 193.7,494.2 198.3,493.3 202.9,492.4 207.3,491.6 211.7,491.0 216.2,490.3 220.6,489.6 225.0,488.8 229.2,487.9 233.5,487.0 237.8,486.1 242.0,485.2 246.0,484.4 250.0,483.7 254.0,483.0 258.0,482.6 262.4,482.3 266.8,482.2 271.2,482.2 275.6,482.1 280.0,482.1 284.6,482.0 289.2,482.0 293.9,482.0 298.5,481.9 303.1,481.9 307.8,481.8 312.4,481.8 317.0,481.7 321.3,481.6 325.6,481.5 330.0,481.4 334.3,481.3 338.6,481.1 342.9,481.0 347.2,480.9 351.5,480.7 355.9,480.6 360.2,480.5 364.5,480.4 368.9,480.3 373.4,480.3 377.8,480.3 382.2,480.3 386.7,480.3 391.1,480.2 395.6,480.1 400.0,480.0 404.3,479.8 408.6,479.6 412.9,479.3 417.1,478.9 421.4,478.6 425.7,478.3 430.0,478.0 434.2,477.8 438.4,477.5 442.5,477.3 446.7,477.1 450.9,476.9 455.0,476.6 459.2,476.3 463.4,476.0 468.2,475.0 473.0,474.1 477.3,473.9 481.5,473.8 485.8,473.7 490.1,473.7 494.4,473.6 498.6,473.6 502.9,473.6 507.2,473.6 511.5,473.5 515.7,473.5 520.0,473.5 524.2,473.5 528.5,473.4 532.8,473.4 537.0,473.4 541.2,473.4 545.5,473.4 549.8,473.4 554.0,473.4 558.2,473.4 562.5,473.3 566.8,473.3 571.0,473.2 575.8,473.1 580.6,472.8 585.4,472.5 590.2,472.2 595.1,471.8 600.0,471.2 604.7,470.5 609.3,469.8 614.0,469.1 618.6,468.4 623.3,467.7 628.0,467.0 632.7,466.3 637.3,465.6 642.0,464.9 646.7,464.2 651.4,463.5 656.0,462.9 660.7,462.2 665.3,461.5 670.0,460.7 674.7,459.8 679.3,458.9 684.0,458.0 688.6,457.0 693.3,456.0 698.0,455.0 702.7,454.0 707.3,453.0 712.0,452.0 716.7,450.9 721.4,449.8 726.0,448.7 730.7,447.5 735.3,446.2 740.0,444.8 744.7,443.2 749.4,441.4 754.0,439.6 758.7,437.8 763.4,436.2 768.1,434.9 772.7,433.9 777.4,432.9 782.0,431.7 786.7,430.3 791.1,428.2 795.6,425.6 800.0,423.3 804.2,421.8 808.5,420.5 812.8,419.2 817.0,417.6 821.2,415.7 825.5,413.8 829.7,411.9 833.9,409.9 838.2,407.8 842.4,405.8 846.6,403.7 850.9,401.7 855.1,399.6 859.6,397.4 864.2,395.3 868.7,393.2 873.2,391.1 877.7,388.8 882.3,386.4 886.8,383.7 891.0,381.0 895.2,378.1 899.5,375.1 903.7,371.9 907.9,368.8 912.1,365.6 916.4,362.6 920.6,359.6 924.8,356.8 929.3,354.0 933.9,351.3 938.4,348.7 942.9,346.2 947.4,343.8 952.0,341.5 956.5,339.3 960.8,337.3 965.1,335.3 969.5,333.4 973.8,331.5 978.1,329.7 982.4,327.8 986.7,326.0 991.0,324.2 995.4,322.4 999.7,320.6 1004.0,318.7 1008.5,316.7 1013.1,314.8 1017.6,312.9 1022.1,311.0 1026.6,308.9 1031.2,306.8 1035.7,304.5 1040.2,302.0 1044.8,299.3 1049.3,296.5 1053.8,293.7 1058.3,290.8 1062.9,288.1 1067.4,285.5 1071.8,283.2 1076.1,280.9 1080.5,278.7 1084.8,276.5 1089.2,274.4 1093.6,272.2 1097.9,270.1 1102.3,268.0 1106.8,265.8 1111.4,263.6 1115.9,261.4 1120.4,259.3 1124.9,257.1 1129.5,255.0 1134.0,252.8" fill="none" stroke="#1fd01f" stroke-width="1.7" stroke-linejoin="round" opacity="0.24"/>
<polyline points="6.3,543.0 11.0,541.4 15.8,539.8 20.5,538.2 25.3,536.6 30.0,535.0 34.4,533.5 38.8,532.1 43.2,530.7 47.6,529.3 52.0,528.0 56.0,526.9 60.1,525.8 64.2,524.8 68.2,523.8 72.2,522.8 76.3,521.8 81.0,520.7 85.8,519.7 90.5,518.7 95.3,517.7 100.0,516.5 104.0,515.4 108.0,514.2 112.0,512.9 116.0,511.7 120.0,510.5 124.0,509.4 128.0,508.3 132.0,507.3 136.0,506.2 140.0,505.2 144.1,504.1 148.3,503.0 152.4,501.9 156.5,500.9 160.7,499.9 164.8,499.0 169.9,498.2 174.9,497.6 180.0,496.9 184.6,496.1 189.2,495.1 193.7,494.2 198.3,493.3 202.9,492.4 207.3,491.6 211.7,491.0 216.2,490.3 220.6,489.6 225.0,488.8 229.2,487.9 233.5,487.0 237.8,486.1 242.0,485.2 246.0,484.4 250.0,483.7 254.0,483.0 258.0,482.6 262.4,482.3 266.8,482.2 271.2,482.2 275.6,482.1 280.0,482.1 284.6,482.0 289.2,482.0 293.9,482.0 298.5,481.9 303.1,481.9 307.8,481.8 312.4,481.8 317.0,481.7 321.3,481.6 325.6,481.5 330.0,481.4 334.3,481.3 338.6,481.1 342.9,481.0 347.2,480.9 351.5,480.7 355.9,480.6 360.2,480.5 364.5,480.4 368.9,480.3 373.4,480.3 377.8,480.3 382.2,480.3 386.7,480.3 391.1,480.2 395.6,480.1 400.0,480.0 404.3,479.8 408.6,479.6 412.9,479.3 417.1,478.9 421.4,478.6 425.7,478.3 430.0,478.0 434.2,477.8 438.4,477.5 442.5,477.3 446.7,477.1 450.9,476.9 455.0,476.6 459.2,476.3 463.4,476.0 468.2,475.0 473.0,474.1 477.3,473.9 481.5,473.8 485.8,473.7 490.1,473.7 494.4,473.6 498.6,473.6 502.9,473.6 507.2,473.6 511.5,473.5 515.7,473.5 520.0,473.5 524.2,473.5 528.5,473.4 532.8,473.4 537.0,473.4 541.2,473.4 545.5,473.4 549.8,473.4 554.0,473.4 558.2,473.4 562.5,473.3 566.8,473.3 571.0,473.2 575.8,473.1 580.6,472.8 585.4,472.5 590.2,472.2 595.1,471.8 600.0,471.2 604.7,470.5 609.3,469.8 614.0,469.1 618.6,468.4 623.3,467.7 628.0,467.0 632.7,466.3 637.3,465.6 642.0,464.9 646.7,464.2 651.4,463.5 656.0,462.9 660.7,462.2 665.3,461.5 670.0,460.7 674.7,459.8 679.3,458.9 684.0,458.0 688.6,457.0 693.3,456.0 698.0,455.0 702.7,454.0 707.3,453.0 712.0,452.0 716.7,450.9 721.4,449.8 726.0,448.7 730.7,447.5 735.3,446.2 740.0,444.8 744.7,443.2 749.4,441.4 754.0,439.6 758.7,437.8 763.4,436.2 768.1,434.9 772.7,433.9 777.4,432.9 782.0,431.7 786.7,430.3 791.1,428.2 795.6,425.6 800.0,423.3 804.2,421.8 808.5,420.5 812.8,419.2 817.0,417.6 821.2,415.7 825.5,413.8 829.7,411.9 833.9,409.9 838.2,407.8 842.4,405.8 846.6,403.7 850.9,401.7 855.1,399.6 859.6,397.4 864.2,395.3 868.7,393.2 873.2,391.1 877.7,388.8 882.3,386.4 886.8,383.7 891.0,381.0 895.2,378.1 899.5,375.1 903.7,371.9 907.9,368.8 912.1,365.6 916.4,362.6 920.6,359.6 924.8,356.8 929.3,354.0 933.9,351.3 938.4,348.7 942.9,346.2 947.4,343.8 952.0,341.5 956.5,339.3 960.8,337.3 965.1,335.3 969.5,333.4 973.8,331.5 978.1,329.7 982.4,327.8 986.7,326.0 991.0,324.2 995.4,322.4 999.7,320.6 1004.0,318.7 1008.5,316.7 1013.1,314.8 1017.6,312.9 1022.1,311.0 1026.6,308.9 1031.2,306.8 1035.7,304.5 1040.2,302.0 1044.8,299.3 1049.3,296.5 1053.8,293.7 1058.3,290.8 1062.9,288.1 1067.4,285.5 1071.8,283.2 1076.1,280.9 1080.5,278.7 1084.8,276.5 1089.2,274.4 1093.6,272.2 1097.9,270.1 1102.3,268.0 1106.8,265.8 1111.4,263.6 1115.9,261.4 1120.4,259.3 1124.9,257.1 1129.5,255.0 1134.0,252.8" fill="none" stroke="#1fd01f" stroke-width="1" stroke-linejoin="round" opacity="0.9" shape-rendering="crispEdges"/>
<polyline points="6.3,490.5 53.9,491.2 95.0,490.0 98.0,490.0 111.0,487.3 126.8,484.3 135.0,485.4 150.0,485.0 165.0,483.0 181.0,480.8 190.0,478.4 203.0,476.3 227.0,475.9 253.6,475.3 287.0,474.3 317.0,474.7 348.7,472.2 376.0,472.3 391.0,473.7 414.0,477.5 438.0,477.2 460.0,474.6 473.0,473.0 520.0,472.4 571.0,471.8 586.0,470.0 600.0,468.2 618.7,464.9 637.3,461.9 656.0,452.5 677.0,443.2 698.0,432.7 714.4,425.2 726.0,422.2 744.7,411.7 768.0,398.1 786.7,384.1 800.0,375.5 823.4,356.8 855.1,329.8 880.4,306.1 899.5,285.5 918.5,268.0 943.8,250.6 950.0,247.0 970.0,239.2 989.0,228.3 1004.4,222.6 1020.0,218.2 1035.5,212.8 1050.0,208.1 1055.5,205.9 1071.0,198.9 1082.5,193.4 1091.0,192.7 1108.7,191.1 1117.8,190.3 1134.9,190.3" fill="none" stroke="#d21fd2" stroke-width="1.7" stroke-linejoin="round" opacity="0.24"/>
<polyline points="6.3,490.5 53.9,491.2 95.0,490.0 98.0,490.0 111.0,487.3 126.8,484.3 135.0,485.4 150.0,485.0 165.0,483.0 181.0,480.8 190.0,478.4 203.0,476.3 227.0,475.9 253.6,475.3 287.0,474.3 317.0,474.7 348.7,472.2 376.0,472.3 391.0,473.7 414.0,477.5 438.0,477.2 460.0,474.6 473.0,473.0 520.0,472.4 571.0,471.8 586.0,470.0 600.0,468.2 618.7,464.9 637.3,461.9 656.0,452.5 677.0,443.2 698.0,432.7 714.4,425.2 726.0,422.2 744.7,411.7 768.0,398.1 786.7,384.1 800.0,375.5 823.4,356.8 855.1,329.8 880.4,306.1 899.5,285.5 918.5,268.0 943.8,250.6 950.0,247.0 970.0,239.2 989.0,228.3 1004.4,222.6 1020.0,218.2 1035.5,212.8 1050.0,208.1 1055.5,205.9 1071.0,198.9 1082.5,193.4 1091.0,192.7 1108.7,191.1 1117.8,190.3 1134.9,190.3" fill="none" stroke="#d21fd2" stroke-width="1" stroke-linejoin="round" opacity="0.9" shape-rendering="crispEdges"/>
<polyline points="6.3,501.6 19.0,495.3 31.7,490.5 44.4,482.6 63.4,478.5 76.0,477.2 85.0,478.0 93.7,480.0 102.5,477.5 111.2,474.7 120.0,469.3 128.7,469.1 137.5,467.8 146.2,467.9 155.0,467.0 163.8,465.0 172.5,463.2 181.3,463.2 190.0,464.0 198.8,466.2 207.5,472.3 216.3,475.5 225.0,477.3 233.8,477.7 242.5,479.6 251.3,480.8 260.0,482.0 268.8,482.8 277.5,483.6 286.3,483.9 295.0,480.7 303.8,479.1 312.6,479.6 321.3,480.0 330.1,479.5 338.8,478.8 347.6,476.7 356.3,471.8 365.1,469.0 373.8,467.2 382.6,468.1 391.3,469.1 400.1,469.1 408.8,472.0 417.6,473.8 426.3,473.4 435.1,474.3 443.8,476.1 452.6,476.9 461.4,475.9 470.1,473.5 478.9,472.4 487.6,471.4 496.4,468.3 505.1,466.5 513.9,467.6 522.6,469.2 531.4,471.7 540.1,472.6 548.9,474.7 557.6,475.8 566.4,475.1 575.1,473.5 583.9,471.8 592.7,468.7 601.4,464.4 610.2,458.9 618.9,450.7 627.7,442.5 636.4,434.6 645.2,426.3 653.9,415.9 662.7,407.0 671.4,397.8 680.2,389.5 688.9,382.1 697.7,374.3 706.4,368.3 715.2,364.4 723.9,360.6 732.7,356.8 741.5,352.6 750.2,347.3 759.0,343.7 767.7,339.4 776.5,334.9 785.2,329.0 794.0,322.5 802.7,314.8 811.5,306.6 820.2,299.0 829.0,290.9 837.7,282.5 846.5,270.8 855.2,262.0 864.0,252.1 872.7,241.5 881.5,230.7 890.3,217.5 899.0,199.5 907.8,185.6 916.5,170.5 925.3,165.0 934.0,162.9 942.8,157.2 951.5,153.5 960.3,158.5 969.0,165.7 977.8,176.3 986.5,187.8 995.3,197.2 1004.0,210.8 1012.8,218.2 1021.5,222.7 1030.3,228.4 1039.1,232.7 1047.8,227.5 1056.6,220.9 1065.3,210.8 1074.1,205.2 1082.8,202.1 1091.6,200.4 1100.3,194.6 1109.1,190.3 1117.8,186.6 1126.6,183.9 1135.3,186.0" fill="none" stroke="#cfc81a" stroke-width="1.7" stroke-linejoin="round" opacity="0.24"/>
<polyline points="6.3,501.6 19.0,495.3 31.7,490.5 44.4,482.6 63.4,478.5 76.0,477.2 85.0,478.0 93.7,480.0 102.5,477.5 111.2,474.7 120.0,469.3 128.7,469.1 137.5,467.8 146.2,467.9 155.0,467.0 163.8,465.0 172.5,463.2 181.3,463.2 190.0,464.0 198.8,466.2 207.5,472.3 216.3,475.5 225.0,477.3 233.8,477.7 242.5,479.6 251.3,480.8 260.0,482.0 268.8,482.8 277.5,483.6 286.3,483.9 295.0,480.7 303.8,479.1 312.6,479.6 321.3,480.0 330.1,479.5 338.8,478.8 347.6,476.7 356.3,471.8 365.1,469.0 373.8,467.2 382.6,468.1 391.3,469.1 400.1,469.1 408.8,472.0 417.6,473.8 426.3,473.4 435.1,474.3 443.8,476.1 452.6,476.9 461.4,475.9 470.1,473.5 478.9,472.4 487.6,471.4 496.4,468.3 505.1,466.5 513.9,467.6 522.6,469.2 531.4,471.7 540.1,472.6 548.9,474.7 557.6,475.8 566.4,475.1 575.1,473.5 583.9,471.8 592.7,468.7 601.4,464.4 610.2,458.9 618.9,450.7 627.7,442.5 636.4,434.6 645.2,426.3 653.9,415.9 662.7,407.0 671.4,397.8 680.2,389.5 688.9,382.1 697.7,374.3 706.4,368.3 715.2,364.4 723.9,360.6 732.7,356.8 741.5,352.6 750.2,347.3 759.0,343.7 767.7,339.4 776.5,334.9 785.2,329.0 794.0,322.5 802.7,314.8 811.5,306.6 820.2,299.0 829.0,290.9 837.7,282.5 846.5,270.8 855.2,262.0 864.0,252.1 872.7,241.5 881.5,230.7 890.3,217.5 899.0,199.5 907.8,185.6 916.5,170.5 925.3,165.0 934.0,162.9 942.8,157.2 951.5,153.5 960.3,158.5 969.0,165.7 977.8,176.3 986.5,187.8 995.3,197.2 1004.0,210.8 1012.8,218.2 1021.5,222.7 1030.3,228.4 1039.1,232.7 1047.8,227.5 1056.6,220.9 1065.3,210.8 1074.1,205.2 1082.8,202.1 1091.6,200.4 1100.3,194.6 1109.1,190.3 1117.8,186.6 1126.6,183.9 1135.3,186.0" fill="none" stroke="#cfc81a" stroke-width="1" stroke-linejoin="round" opacity="0.9" shape-rendering="crispEdges"/>
<polyline points="6.3,482.6 15.0,485.0 23.7,482.8 32.4,488.2 41.2,486.0 50.0,482.1 58.7,475.9 67.5,473.1 76.2,471.4 85.0,475.7 93.7,477.9 102.5,479.1 111.2,476.4 120.0,467.2 128.7,462.6 137.5,457.7 146.2,456.7 155.0,457.7 163.8,462.8 172.5,463.8 181.3,468.7 190.0,471.4 198.8,474.7 207.5,481.8 216.3,487.2 225.0,485.9 233.8,484.0 242.5,484.4 251.3,479.8 260.0,476.8 268.8,479.6 277.5,483.1 286.3,483.4 295.0,481.5 303.8,481.3 312.6,479.6 321.3,476.9 330.1,475.7 338.8,476.1 347.6,472.0 356.3,464.0 365.1,461.0 373.8,458.8 382.6,460.1 391.3,466.2 400.1,474.2 408.8,482.9 417.6,488.9 426.3,486.8 435.1,482.4 443.8,478.1 452.6,470.9 461.4,462.9 470.1,460.2 478.9,462.4 487.6,464.6 496.4,465.7 505.1,470.1 513.9,475.0 522.6,476.0 531.4,478.7 540.1,479.5 548.9,479.3 557.6,476.5 566.4,474.2 575.1,468.3 583.9,464.1 592.7,458.1 601.4,452.2 610.2,443.7 618.9,433.2 627.7,420.9 636.4,411.1 645.2,400.4 653.9,388.2 662.7,380.9 671.4,374.6 680.2,367.9 688.9,363.7 697.7,360.4 706.4,355.8 715.2,354.1 723.9,353.3 732.7,350.0 741.5,344.7 750.2,338.9 759.0,333.4 767.7,325.5 776.5,319.8 785.2,313.3 794.0,306.1 802.7,296.1 811.5,287.8 820.2,278.3 829.0,268.5 837.7,259.0 846.5,245.5 855.2,236.2 864.0,226.0 872.7,214.5 881.5,202.3 890.3,189.5 899.0,162.8 907.8,145.3 916.5,126.5 925.3,127.8 934.0,136.3 942.8,151.5 951.5,161.8 960.3,190.6 969.0,203.5 977.8,216.3 986.5,224.1 995.3,232.6 1004.0,230.9 1012.8,232.8 1021.5,229.1 1030.3,232.8 1039.1,232.8 1047.8,224.1 1056.6,209.1 1065.3,192.6 1074.1,177.6 1082.8,171.3 1091.6,176.7 1100.3,181.2 1109.1,190.2 1117.8,197.4 1126.6,198.7 1135.3,196.5" fill="none" stroke="#dcdcdc" stroke-width="1.7" stroke-linejoin="round" opacity="0.24"/>
<polyline points="6.3,482.6 15.0,485.0 23.7,482.8 32.4,488.2 41.2,486.0 50.0,482.1 58.7,475.9 67.5,473.1 76.2,471.4 85.0,475.7 93.7,477.9 102.5,479.1 111.2,476.4 120.0,467.2 128.7,462.6 137.5,457.7 146.2,456.7 155.0,457.7 163.8,462.8 172.5,463.8 181.3,468.7 190.0,471.4 198.8,474.7 207.5,481.8 216.3,487.2 225.0,485.9 233.8,484.0 242.5,484.4 251.3,479.8 260.0,476.8 268.8,479.6 277.5,483.1 286.3,483.4 295.0,481.5 303.8,481.3 312.6,479.6 321.3,476.9 330.1,475.7 338.8,476.1 347.6,472.0 356.3,464.0 365.1,461.0 373.8,458.8 382.6,460.1 391.3,466.2 400.1,474.2 408.8,482.9 417.6,488.9 426.3,486.8 435.1,482.4 443.8,478.1 452.6,470.9 461.4,462.9 470.1,460.2 478.9,462.4 487.6,464.6 496.4,465.7 505.1,470.1 513.9,475.0 522.6,476.0 531.4,478.7 540.1,479.5 548.9,479.3 557.6,476.5 566.4,474.2 575.1,468.3 583.9,464.1 592.7,458.1 601.4,452.2 610.2,443.7 618.9,433.2 627.7,420.9 636.4,411.1 645.2,400.4 653.9,388.2 662.7,380.9 671.4,374.6 680.2,367.9 688.9,363.7 697.7,360.4 706.4,355.8 715.2,354.1 723.9,353.3 732.7,350.0 741.5,344.7 750.2,338.9 759.0,333.4 767.7,325.5 776.5,319.8 785.2,313.3 794.0,306.1 802.7,296.1 811.5,287.8 820.2,278.3 829.0,268.5 837.7,259.0 846.5,245.5 855.2,236.2 864.0,226.0 872.7,214.5 881.5,202.3 890.3,189.5 899.0,162.8 907.8,145.3 916.5,126.5 925.3,127.8 934.0,136.3 942.8,151.5 951.5,161.8 960.3,190.6 969.0,203.5 977.8,216.3 986.5,224.1 995.3,232.6 1004.0,230.9 1012.8,232.8 1021.5,229.1 1030.3,232.8 1039.1,232.8 1047.8,224.1 1056.6,209.1 1065.3,192.6 1074.1,177.6 1082.8,171.3 1091.6,176.7 1100.3,181.2 1109.1,190.2 1117.8,197.4 1126.6,198.7 1135.3,196.5" fill="none" stroke="#dcdcdc" stroke-width="1" stroke-linejoin="round" opacity="0.9" shape-rendering="crispEdges"/>
</g>
<text x="1180.2" y="29.6" font-size="16" fill="#eceef2" textLength="55.6" lengthAdjust="spacingAndGlyphs">4517.60</text>
<text x="1180.2" y="104.9" font-size="16" fill="#eceef2" textLength="55.6" lengthAdjust="spacingAndGlyphs">4320.20</text>
<text x="1180.2" y="179.9" font-size="16" fill="#eceef2" textLength="55.6" lengthAdjust="spacingAndGlyphs">4122.81</text>
<text x="1180.2" y="256.1" font-size="16" fill="#eceef2" textLength="55.6" lengthAdjust="spacingAndGlyphs">3925.41</text>
<text x="1180.2" y="331.1" font-size="16" fill="#eceef2" textLength="55.6" lengthAdjust="spacingAndGlyphs">3728.01</text>
<text x="1180.2" y="406.1" font-size="16" fill="#eceef2" textLength="55.6" lengthAdjust="spacingAndGlyphs">3530.62</text>
<text x="1180.2" y="482.3" font-size="16" fill="#eceef2" textLength="55.6" lengthAdjust="spacingAndGlyphs">3333.22</text>
<text x="1180.2" y="557.3" font-size="16" fill="#eceef2" textLength="55.6" lengthAdjust="spacingAndGlyphs">3135.83</text>
<rect x="1251" y="185.8" width="10" height="11" fill="#000"/>
<path d="M1250.8 190.8L1255.8 185.8L1260.8 190.8ZM1250.8 196.4L1255.8 191.6L1260.8 196.4Z" fill="#f59a3a"/>
<rect x="1177.1" y="196.9" width="84.1" height="21" fill="#000" stroke="#f0983a" stroke-width="1.25"/>
<text x="1180.2" y="212.2" font-size="16" fill="#ee9636" stroke="#ee9636" stroke-width="0.12" textLength="55.8" lengthAdjust="spacingAndGlyphs">4071.58</text>
<text x="2.9" y="15.9" font-size="15.2" fill="#e4e4e4" textLength="60.2" lengthAdjust="spacingAndGlyphs">现货黄金</text>
<text x="63.4" y="15.9" font-size="15.2" fill="#ff6a00" textLength="60.2" lengthAdjust="spacingAndGlyphs">【日线】</text>
<text x="163.4" y="16.0" font-size="16.3" fill="#e0e0e0" textLength="166.2" lengthAdjust="spacingAndGlyphs">MA(5,10,30,60,100,200)</text>
<text x="336" y="16.0" font-size="16.3" fill="#dedede" textLength="94" lengthAdjust="spacingAndGlyphs">MA5:4071.94</text>
<text x="440" y="16.0" font-size="16.3" fill="#cac41e" textLength="101.5" lengthAdjust="spacingAndGlyphs">MA10:4098.33</text>
<text x="552.4" y="16.0" font-size="16.3" fill="#cc20cc" textLength="102.2" lengthAdjust="spacingAndGlyphs">MA30:4087.36</text>
<text x="665.3" y="16.0" font-size="16.3" fill="#22cc22" textLength="100.8" lengthAdjust="spacingAndGlyphs">MA60:3925.52</text>
<text x="777.7" y="16.0" font-size="16.3" fill="#868686" textLength="110.8" lengthAdjust="spacingAndGlyphs">MA100:3698.59</text>
<text x="899.5" y="16.0" font-size="16.3" fill="#dc3232" textLength="101.7" lengthAdjust="spacingAndGlyphs">MA200:3444.4</text>
<g stroke="#e66300" stroke-width="1.4" fill="none"><circle cx="129.9" cy="12.9" r="5.3"/><path d="M124.6 12.9H135.2M129.9 7.6V18.2"/></g>
<g><path d="M159.7 1.6V16.4M146 16.4H160.3" stroke="#7c7c7c" stroke-width="1.4" fill="none"/><rect x="144.9" y="0.4" width="13.7" height="15" fill="#fff" stroke="#00008a" stroke-width="1.1"/><polyline points="145.5,9.5 149.7,3.8 153.7,7.9 156.8,5.3 158.2,5.3" fill="none" stroke="#ff2020" stroke-width="1.4"/><polyline points="145.5,13.4 149.7,7.7 153.7,11.6 156.8,8.9 158.2,8.9" fill="none" stroke="#2a2aff" stroke-width="1.4"/></g>
<rect x="1097.9" y="0.2" width="16.2" height="16.0" fill="#000" stroke="#969696" stroke-width="1.5"/>
<rect x="1117.9" y="0.2" width="16.2" height="16.0" fill="#000" stroke="#969696" stroke-width="1.5"/>
<rect x="1137.9" y="0.2" width="16.2" height="16.0" fill="#000" stroke="#969696" stroke-width="1.5"/>
<rect x="1157.8" y="0.2" width="16.2" height="16.0" fill="#000" stroke="#969696" stroke-width="1.5"/>
<g stroke="#a0a0a0" stroke-width="2" fill="none"><path d="M1105.9 2.2V5.6M1105.9 11.4V14.6M1100 8.6H1102.9M1108.5 8.6H1111.8M1105.2 8.6H1106.6"/></g>
<g stroke="#a0a0a0" stroke-width="1" fill="#a0a0a0"><path d="M1121.4 3.4V14.4M1120.2 13.2H1131.2" fill="none"/><path d="M1121.4 2.2l1.5 2h-3zM1121.4 15l1.5 -1.8h-3zM1119.8 13.2l1.8 -1.4v2.8zM1132.0 13.2l-1.8 -1.4v2.8z" stroke="none"/></g>
<path d="M1124.6 4V10.8h1.2V4zM1126.4 7.1L1129.4 4.2V10z" fill="#a0a0a0"/>
<g stroke="#a0a0a0" stroke-width="1" fill="#a0a0a0"><path d="M1141.4 3.4V14.4M1140.2 13.2H1151.2" fill="none"/><path d="M1141.4 2.2l1.5 2h-3zM1141.4 15l1.5 -1.8h-3zM1139.8 13.2l1.8 -1.4v2.8zM1152.0 13.2l-1.8 -1.4v2.8z" stroke="none"/></g>
<path d="M1144.8 4.2V11.4L1151 7.8z" fill="#a0a0a0"/>
<rect x="1160.6" y="2.4" width="3.6" height="12.2" rx="1" fill="none" stroke="#a0a0a0" stroke-width="1"/>
<path d="M1162.4 6.8H1167.2V4.6L1171.2 7.9L1167.2 11.2V9H1162.4z" fill="#a0a0a0"/>
<text x="1132.8" y="618.2" font-size="30.5" fill="#eef0f6" textLength="98.6" lengthAdjust="spacing">FX678</text>
<text x="5" y="646.4" font-size="16.3" fill="#e4e4e4" textLength="184.4" lengthAdjust="spacingAndGlyphs">MACD(26,12,9) DIFF:25.19</text>
<text x="200" y="646.4" font-size="16.3" fill="#d6cf1e" textLength="72" lengthAdjust="spacingAndGlyphs">DEA:33.17</text>
<text x="283" y="646.4" font-size="16.3" fill="#d21fd2" textLength="94" lengthAdjust="spacingAndGlyphs">MACD:-15.97</text>
</svg>
</body>
</html>
